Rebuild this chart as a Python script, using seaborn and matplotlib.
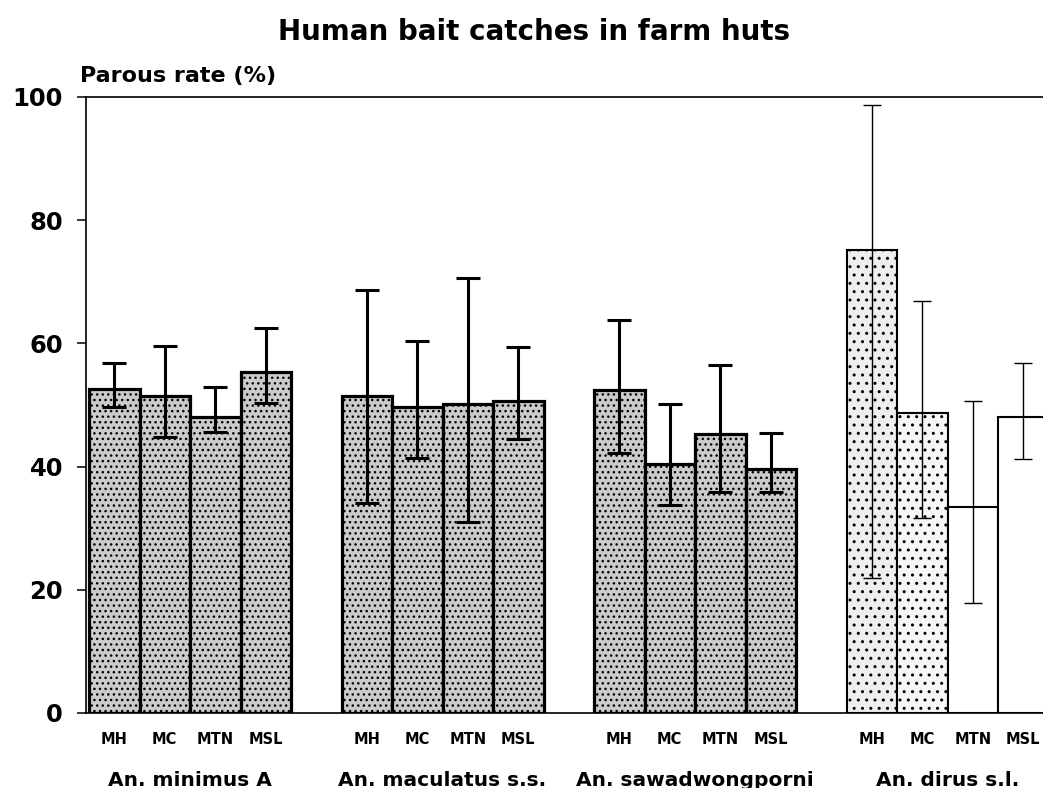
import numpy as np
import pandas as pd
import matplotlib
matplotlib.use("Agg")
import matplotlib.pyplot as plt
import seaborn as sns

# Parous rates (%) with confidence limits, per species and collection site
species = ["An. minimus A", "An. maculatus s.s.", "An. sawadwongporni", "An. dirus s.l."]
sites = ["MH", "MC", "MTN", "MSL"]

rate_minimus = [52.6, 51.5, 48.0, 55.4]
low_minimus = [49.7, 44.8, 45.6, 50.3]
high_minimus = [56.8, 59.6, 52.9, 62.5]

rate_maculatus = [51.5, 49.7, 50.2, 50.6]
low_maculatus = [34.1, 41.4, 31.0, 44.5]
high_maculatus = [68.7, 60.4, 70.6, 59.4]

rate_sawad = [52.4, 40.4, 45.3, 39.6]
low_sawad = [42.2, 33.8, 35.9, 35.9]
high_sawad = [63.8, 50.2, 56.5, 45.5]

rate_dirus = [75.2, 48.7, 33.4, 48.1]
low_dirus = [21.9, 31.7, 17.9, 41.2]
high_dirus = [98.7, 66.9, 50.6, 56.8]

rates = [rate_minimus, rate_maculatus, rate_sawad, rate_dirus]
lows = [low_minimus, low_maculatus, low_sawad, low_dirus]
highs = [high_minimus, high_maculatus, high_sawad, high_dirus]

rows = []
for g, sp in enumerate(species):
    for b, site in enumerate(sites):
        rows.append({"species": sp, "site": site, "group": g,
                     "pos": g * 5 + b,
                     "rate": rates[g][b], "low": lows[g][b], "high": highs[g][b]})
df = pd.DataFrame(rows)

sns.set_style("white")
plt.rcParams["font.family"] = ["DejaVu Sans"]
plt.rcParams["text.color"] = "black"
plt.rcParams["xtick.color"] = "black"
plt.rcParams["ytick.color"] = "black"
plt.rcParams["hatch.linewidth"] = 1.0

fig = plt.figure(figsize=(10.43, 7.88), dpi=100)
ax = fig.add_axes([86 / 1043, 1 - 713 / 788, (1043 - 86) / 1043, (713 - 97) / 788])

sns.barplot(data=df, x="pos", y="rate", native_scale=True, width=1.0,
            errorbar=None, color="white", edgecolor="black", linewidth=2.2,
            saturation=1, ax=ax)

# halftone-like stipple fills; the dirus bars are mostly open
stipple = ("#cbcbcb", "...")
dirus_fills = [("#eeeeee", ".."), ("#f6f6f6", ".."), ("white", ""), ("white", "")]
for patch, (_, row) in zip(ax.patches, df.iterrows()):
    if row.group < 3:
        fc, hatch = stipple
        patch.set_linewidth(2.3)
    else:
        fc, hatch = dirus_fills[int(row.pos) - 15]
        patch.set_linewidth(1.5)
    patch.set_facecolor(fc)
    patch.set_hatch(hatch)

# asymmetric confidence limits
for g in range(4):
    sub = df[df.group == g]
    yerr = [sub.rate - sub.low, sub.high - sub.rate]
    lw = 2.2 if g < 3 else 1.0
    cs = 17 if g < 3 else 13
    ax.errorbar(sub.pos, sub.rate, yerr=yerr, fmt="none", ecolor="black",
                elinewidth=lw, capsize=cs / 2, capthick=lw, zorder=5)

ax.set_xlim(-0.56, 18.39)
ax.set_ylim(0, 100)
ax.set_yticks([0, 20, 40, 60, 80, 100])
ax.set_xticks(df.pos)
ax.set_xticklabels(df.site, fontsize=10.5, fontweight="bold")
ax.tick_params(axis="x", length=0, pad=14)
ax.tick_params(axis="y", direction="out", length=6.5, width=1.1, pad=10,
               labelsize=17.5, left=True)
for lab in ax.get_yticklabels():
    lab.set_fontweight("bold")
ax.set_xlabel("")
ax.set_ylabel("")

for side in ["left", "top", "bottom"]:
    ax.spines[side].set_visible(True)
    ax.spines[side].set_color("black")
    ax.spines[side].set_linewidth(1.2)
ax.spines["right"].set_visible(False)

# species names under each group of bars
for g, sp in enumerate(species):
    ax.text(g * 5 + 1.5, -73 / 616, sp, transform=ax.get_xaxis_transform(),
            ha="center", va="baseline", fontsize=14.5, fontweight="bold")

fig.text(80 / 1043, 1 - 82 / 788, "Parous rate (%)", ha="left", va="baseline",
         fontsize=16, fontweight="bold")
fig.text(534 / 1043, 1 - 40 / 788, "Human bait catches in farm huts",
         ha="center", va="baseline", fontsize=20, fontweight="bold")

fig.savefig("out.png", dpi=100)
